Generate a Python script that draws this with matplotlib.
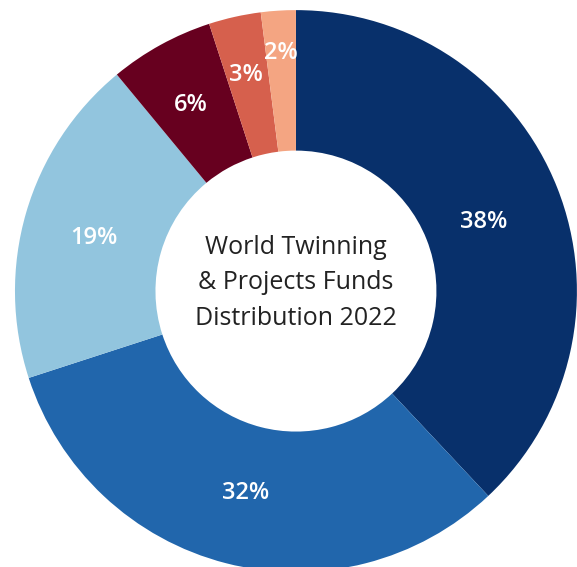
"""Donut chart: World Twinning & Projects funds distribution 2022."""

import numpy as np
import matplotlib.pyplot as plt

plt.rcParams["font.family"] = ["Open Sans", "DejaVu Sans"]

shares = [38, 32, 19, 6, 3, 2]
colors = ["#08306b", "#2166ac", "#92c5de", "#67001f", "#d6604d", "#f4a582"]
label_radius = [0.72, 0.72, 0.75, 0.78, 0.81, 0.87]
title = "World Twinning\n& Projects Funds\nDistribution 2022"

fig = plt.figure(figsize=(5.77, 5.67), dpi=100)
ax = fig.add_axes([0, 0, 1, 1])

wedges, _ = ax.pie(
    shares,
    colors=colors,
    startangle=90,
    counterclock=False,
    radius=1.0,
    wedgeprops=dict(width=0.5, linewidth=0),
)

for w, val, r in zip(wedges, shares, label_radius):
    mid = np.deg2rad((w.theta1 + w.theta2) / 2)
    ax.text(r * np.cos(mid), r * np.sin(mid) - 0.02, f"{val}%",
            ha="center", va="center", color="white",
            fontsize=17, fontweight="semibold")

ax.text(0, 0.03, title, ha="center", va="center", fontsize=18,
        color="#222222", linespacing=1.55)

ax.set_xlim(-1.053, 1.0)
ax.set_ylim(-0.982, 1.036)
ax.set_aspect("equal")
ax.axis("off")

fig.savefig("out.png", dpi=100)
